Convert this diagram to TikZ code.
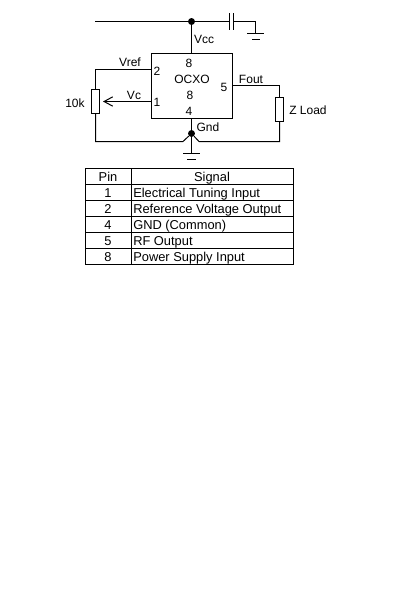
\documentclass[tikz,border=0pt]{standalone}
\usepackage{fontspec}
\setmainfont{Liberation Sans}
\usetikzlibrary{arrows.meta}
\tikzset{
  wire/.style={line width=0.75pt,black},
  lbl/.style={inner sep=0pt,font=\fontsize{9}{9}\selectfont},
  cell/.style={inner sep=0pt,font=\fontsize{9.65}{9.65}\selectfont},
  resbox/.style={draw,line width=0.75pt,fill=white,minimum width=6pt,minimum height=18pt,inner sep=0pt},
  jdot/.style={circle,fill=black,minimum size=5.2pt,inner sep=0pt},
}
\begin{document}
\begin{tikzpicture}[x=0.75pt,y=-0.75pt]
    \useasboundingbox (0,0) rectangle (400,600);
    % oscillator and parts
    \node[draw,line width=0.75pt,minimum width=60.75pt,minimum height=48.75pt,inner sep=0pt] (ocxo) at (192,86) {};
    \node[resbox] (pot) at (95.5,101.5) {};
    \node[resbox] (zload) at (279.5,109.5) {};
    \node[jdot] (vccdot) at (191.5,21.5) {};
    \node[jdot] (gnddot) at (191.5,133.5) {};
    \coordinate (vccstart) at (95,21.5);
    \coordinate (capa) at (229.5,21.5);
    \coordinate (capb) at (233.5,21.5);
    \coordinate (capgnd) at (255.5,33.5);
    \coordinate (gndlow) at (191.5,153.5);
    \coordinate (lowleft) at (183,141.5);
    \coordinate (lowright) at (199,141.5);
    \coordinate (wiper) at (103,101.5);
    % supply rail
    \draw[wire] (vccstart) -- (vccdot) -- (capa);
    \draw[wire] (capa |- 0,13) -- (capa |- 0,30);
    \draw[wire] (capb |- 0,13) -- (capb |- 0,30);
    \draw[wire] (capb) -| (capgnd);
    \draw[wire] (vccdot) -- (vccdot |- ocxo.north);
    \draw[wire] (247,33.5) -- (264,33.5);
    \draw[wire] (252,39.5) -- (260,39.5);
    % pins
    \draw[wire] (ocxo.west |- 0,69.5) -| (pot.north);
    \draw[wire,-{Straight Barb[length=6.5pt,width=7pt]}] (ocxo.west |- wiper) -- (wiper);
    \draw[wire] (pot.south) |- (lowleft) -- (gnddot) -- (lowright) -| (zload.south);
    \draw[wire] (zload.north) |- (ocxo.east |- 0,85.5);
    \draw[wire] (ocxo.south -| gnddot) -- (gndlow);
    \draw[wire] (183,153.5) -- (200,153.5);
    \draw[wire] (187,159.5) -- (196,159.5);
    % labels
    \node[lbl] (pintop) at (189,63) {8};
    \node[lbl] (oname) at (192,79) {OCXO};
    \node[lbl] (pinmid) at (190,95) {8};
    \node[lbl] (pinfour) at (189,111) {4};
    \node[lbl] (pintwo) at (157,71) {2};
    \node[lbl] (pinone) at (157,102) {1};
    \node[lbl] (pinfive) at (224,87) {5};
    \node[lbl] (vref) at (130,62) {Vref};
    \node[lbl] (vc) at (134,95) {Vc};
    \node[lbl] (fout) at (251,79) {Fout};
    \node[lbl] (vcc) at (204,39) {Vcc};
    \node[lbl] (gnd) at (208,127) {Gnd};
    \node[lbl] (tenk) at (75,103) {10k};
    \node[lbl] (zname) at (308,110) {Z Load};
    % pin table
    \draw[wire] (85.5,168.5) rectangle (293.5,264.5);
    \draw[wire] (131.5,168.5) -- (131.5,264.5);
    \foreach \i in {1,...,5}{
      \draw[wire] (85.5,{168.5+16*\i}) -- (293.5,{168.5+16*\i});
    };
    \node[cell,anchor=base] (headpin) at (108,181) {Pin};
    \node[cell,anchor=base] (headsig) at (212,181) {Signal};
    \foreach \i/\p/\s in {1/1/Electrical Tuning Input,2/2/Reference Voltage Output,3/4/GND (Common),4/5/RF Output,5/8/Power Supply Input}{
      \node[cell,anchor=base] (pin\i) at (108,{181+16*\i}) {\p};
      \node[cell,anchor=base west] (sig\i) at (133,{181+16*\i}) {\s};
    };
\end{tikzpicture}
\end{document}
